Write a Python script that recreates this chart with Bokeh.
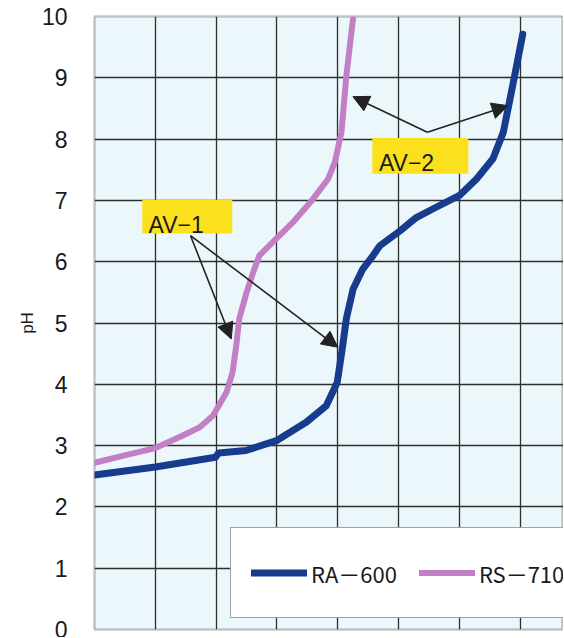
from bokeh.plotting import figure
from bokeh.models import (Range1d, Legend, LegendItem, Label, Arrow, NormalHead,
                          BoxAnnotation, FixedTicker)
from bokeh.embed import file_html
from bokeh.resources import INLINE

# ---- data ----
ra600_x = [0.0, 1.0, 1.99, 2.04, 2.49, 2.99, 3.48, 3.81, 3.99, 4.08, 4.14, 4.25,
           4.41, 4.58, 4.69, 5.02, 5.29, 5.56, 6.00, 6.28, 6.55, 6.72, 6.83, 6.94, 7.04]
ra600_y = [2.52, 2.65, 2.81, 2.88, 2.92, 3.08, 3.38, 3.65, 4.03, 4.63, 5.07, 5.55,
           5.88, 6.10, 6.26, 6.50, 6.72, 6.86, 7.08, 7.35, 7.68, 8.11, 8.65, 9.20, 9.71]

rs710_x = [0.0, 0.58, 1.0, 1.40, 1.73, 1.95, 2.17, 2.27, 2.33, 2.38, 2.50, 2.61,
           2.71, 2.93, 3.26, 3.59, 3.84, 3.95, 4.06, 4.14, 4.25]
rs710_y = [2.72, 2.86, 2.96, 3.14, 3.30, 3.49, 3.87, 4.20, 4.63, 5.07, 5.50, 5.83,
           6.10, 6.32, 6.64, 7.02, 7.35, 7.62, 8.11, 9.03, 9.96]

y_ticks = [0, 1, 2, 3, 4, 5, 6, 7, 8, 9, 10]
x_ticks = [0, 1, 2, 3, 4, 5, 6, 7, 8]

series_names = ["RA－600", "RS－710"]
series_colors = ["#173c8e", "#c27fc5"]

p = figure(width=563, height=637, output_backend="svg", toolbar_location=None,
           x_range=Range1d(0, 7.71), y_range=Range1d(0, 10),
           min_border_left=94, min_border_right=0, min_border_top=16,
           min_border_bottom=8)

p.background_fill_color = "#ecf7fb"
p.border_fill_color = "white"
p.outline_line_color = "#8c8c8c"
p.outline_line_width = 2.5
p.outline_line_dash = "1 1"

p.xaxis.visible = False
p.xgrid.ticker = FixedTicker(ticks=x_ticks)
p.ygrid.ticker = FixedTicker(ticks=y_ticks)
p.grid.grid_line_color = "#2e2e2e"
p.grid.grid_line_width = 1.3

ya = p.yaxis[0]
ya.ticker = FixedTicker(ticks=y_ticks)
ya.axis_line_color = None
ya.major_tick_line_color = None
ya.minor_tick_line_color = None
ya.major_label_standoff = 21
ya.major_label_text_font = "Liberation Sans"
ya.major_label_text_font_size = "23px"
ya.major_label_text_color = "#1a1a1a"
ya.axis_label = "pH"
ya.axis_label_text_font = "Liberation Sans"
ya.axis_label_text_font_style = "normal"
ya.axis_label_text_font_size = "17px"
ya.axis_label_text_color = "#1a1a1a"
ya.axis_label_standoff = 2

r1 = p.line(ra600_x, ra600_y, line_color=series_colors[0], line_width=7,
            line_join="round", line_cap="round")
r2 = p.line(rs710_x, rs710_y, line_color=series_colors[1], line_width=6,
            line_join="round", line_cap="round")

# yellow callout boxes
yellow = "#fbe01e"
p.add_layout(BoxAnnotation(left=0.785, right=2.265, bottom=6.46, top=7.01,
                           fill_color=yellow, fill_alpha=1, line_color=None))
p.add_layout(BoxAnnotation(left=4.567, right=6.146, bottom=7.436, top=8.018,
                           fill_color=yellow, fill_alpha=1, line_color=None))
p.add_layout(Label(x=0.888, y=6.60, text="AV−1", text_font="Liberation Sans",
                   text_font_size="23px", text_color="#1a1a1a",
                   text_baseline="alphabetic"))
p.add_layout(Label(x=4.676, y=7.61, text="AV−2", text_font="Liberation Sans",
                   text_font_size="23px", text_color="#1a1a1a",
                   text_baseline="alphabetic"))

# arrows
def arrow(x0, y0, x1, y1):
    p.add_layout(Arrow(end=NormalHead(size=16, fill_color="#222222",
                                      line_color="#222222"),
                       x_start=x0, y_start=y0, x_end=x1, y_end=y1,
                       line_color="#222222", line_width=1.6))

arrow(1.579, 6.424, 2.248, 4.739)
arrow(1.579, 6.424, 4.002, 4.604)
arrow(5.472, 8.111, 4.248, 8.692)
arrow(5.472, 8.111, 6.798, 8.545)

legend = Legend(items=[LegendItem(label=series_names[0], renderers=[r1]),
                       LegendItem(label=series_names[1], renderers=[r2])],
                orientation="horizontal", location=(136, 11))
legend.padding = 20
legend.spacing = 22
legend.glyph_width = 56
legend.glyph_height = 49
legend.label_standoff = 4
legend.label_text_font = "Noto Sans CJK JP"
legend.label_text_font_size = "22px"
legend.label_text_color = "#1a1a1a"
legend.border_line_color = "#444444"
legend.border_line_width = 1.2
legend.background_fill_color = "white"
legend.background_fill_alpha = 1
legend.margin = 0
p.add_layout(legend)

open("out.html", "w").write(file_html(p, INLINE))
